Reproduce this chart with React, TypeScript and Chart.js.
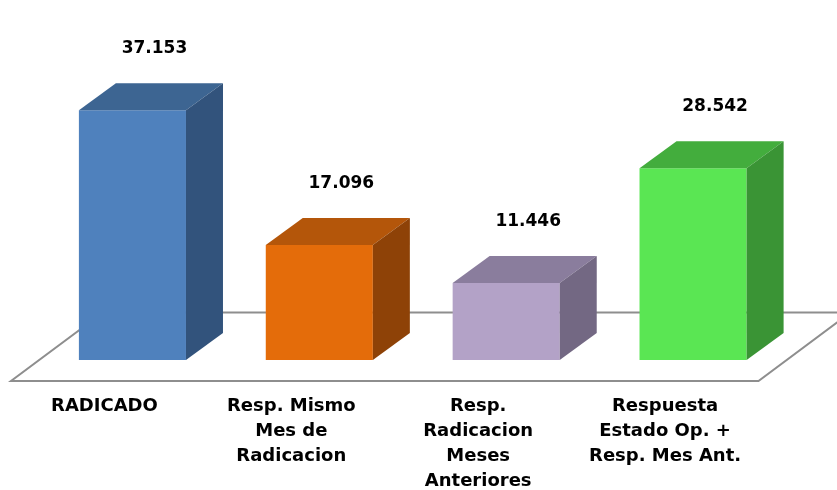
import React, { useEffect, useRef } from 'react';
import { Chart, registerables } from 'chart.js';

Chart.register(...registerables);

const categories: string[][] = [
  ['RADICADO'],
  ['Resp. Mismo', 'Mes de', 'Radicacion'],
  ['Resp.', 'Radicacion', 'Meses', 'Anteriores'],
  ['Respuesta', 'Estado Op. +', 'Resp. Mes Ant.'],
];
const values: number[] = [37153, 17096, 11446, 28542];
const valueLabels: string[] = ['37.153', '17.096', '11.446', '28.542'];

const frontColors = ['#4f81bd', '#e46c0a', '#b3a2c7', '#5ae653'];
const topColors = ['#3d6592', '#b4560a', '#8a7d9d', '#43ad3d'];
const sideColors = ['#32537c', '#8e4207', '#736883', '#3a9435'];

const DX = 37;
const DY = 27;

const bar3d = {
  id: 'bar3d',
  beforeDatasetsDraw(chart: any) {
    const { ctx, chartArea: a } = chart;
    const fl = a.left - 28, fr = a.right - 28, fy = a.bottom + 21;
    const bl = a.left + 64, br = a.right + 64, by = a.bottom - 47.5;
    ctx.save();
    ctx.strokeStyle = '#8e8e8e';
    ctx.lineWidth = 2;
    ctx.beginPath();
    ctx.moveTo(fl, fy);
    ctx.lineTo(fr, fy);
    ctx.lineTo(br, by);
    ctx.lineTo(bl, by);
    ctx.closePath();
    ctx.stroke();
    ctx.restore();
  },
  afterDatasetsDraw(chart: any) {
    const { ctx } = chart;
    const meta = chart.getDatasetMeta(0);
    ctx.save();
    meta.data.forEach((bar: any, i: number) => {
      const { x, y, base, width } = bar.getProps(['x', 'y', 'base', 'width'], true);
      const l = x - width / 2;
      const r = x + width / 2;
      ctx.fillStyle = topColors[i];
      ctx.beginPath();
      ctx.moveTo(l, y);
      ctx.lineTo(l + DX, y - DY);
      ctx.lineTo(r + DX, y - DY);
      ctx.lineTo(r, y);
      ctx.closePath();
      ctx.fill();
      ctx.fillStyle = sideColors[i];
      ctx.beginPath();
      ctx.moveTo(r, y);
      ctx.lineTo(r + DX, y - DY);
      ctx.lineTo(r + DX, base - DY);
      ctx.lineTo(r, base);
      ctx.closePath();
      ctx.fill();
      ctx.fillStyle = '#000';
      ctx.font = 'bold 17px "DejaVu Sans"';
      ctx.textAlign = 'center';
      ctx.textBaseline = 'middle';
      ctx.fillText(valueLabels[i], x + 22, y - 62);
    });
    ctx.restore();
  },
};

export default function App() {
  const ref = useRef<HTMLCanvasElement | null>(null);
  useEffect(() => {
    if (!ref.current) return;
    const chart = new Chart(ref.current, {
      type: 'bar',
      data: {
        labels: categories,
        datasets: [
          {
            data: values,
            backgroundColor: frontColors,
            borderWidth: 0,
            barPercentage: 1,
            categoryPercentage: 0.573,
          },
        ],
      },
      options: {
        animation: false,
        responsive: true,
        maintainAspectRatio: false,
        layout: { padding: { top: 24, left: 39, right: 50.5, bottom: 0 } },
        plugins: { legend: { display: false }, tooltip: { enabled: false } },
        scales: {
          x: {
            grid: { display: false, drawTicks: false },
            border: { display: false },
            ticks: {
              color: '#000',
              font: { family: 'DejaVu Sans', size: 18, weight: 'bold', lineHeight: 25 / 18 },
              labelOffset: -28,
              padding: 34,
              maxRotation: 0,
              autoSkip: false,
            },
            afterFit: (s: any) => {
              s.height = 130;
            },
          },
          y: { display: false, min: 0, max: 50000 },
        },
      },
      plugins: [bar3d],
    });
    return () => chart.destroy();
  }, []);
  return (
    <div style={{ position: 'absolute', left: 0, top: 0, width: 837, height: 490, background: '#fff' }}>
      <canvas ref={ref} />
    </div>
  );
}
